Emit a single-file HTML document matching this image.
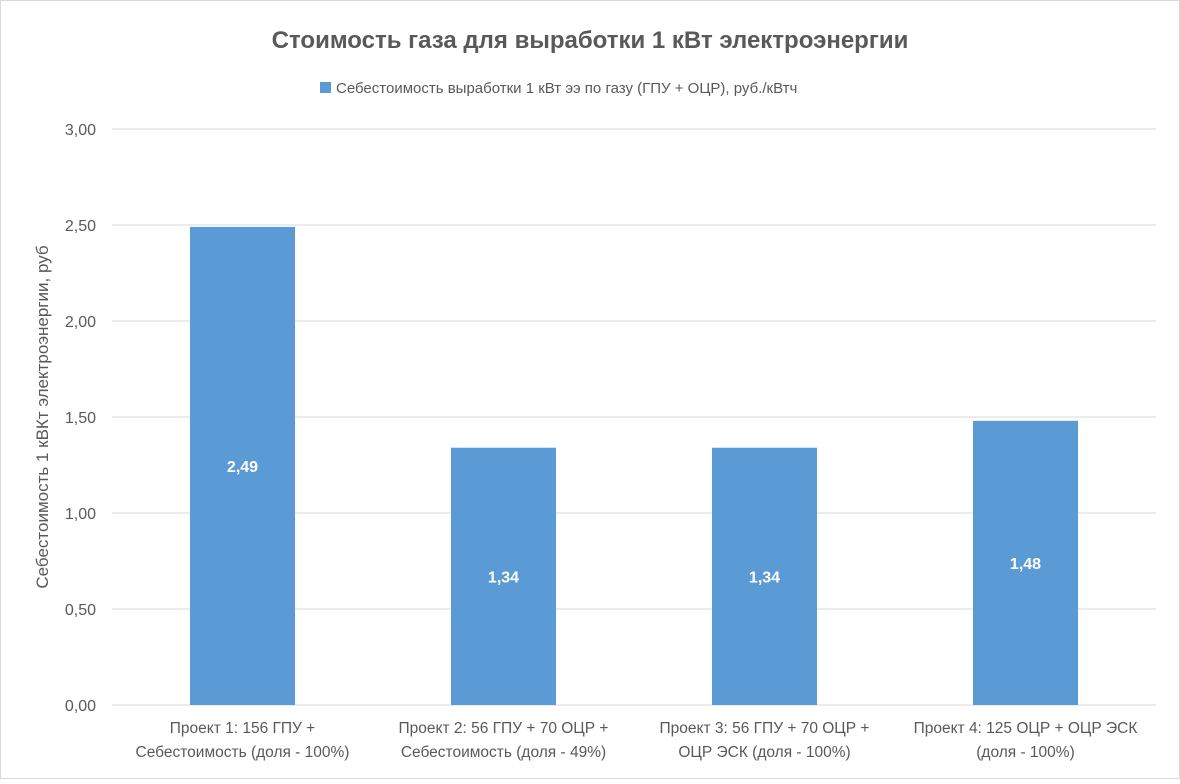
<!DOCTYPE html>
<html><head><meta charset="utf-8"><style>
body{margin:0;background:#fff;}
svg text{font-family:"Liberation Sans",sans-serif;}
</style></head><body>
<svg width="1180" height="779" xmlns="http://www.w3.org/2000/svg">
<rect x="0.5" y="0.5" width="1179" height="778" fill="#fff" stroke="#d9d9d9"/>
<text x="590" y="48" text-anchor="middle" font-size="24" font-weight="bold" fill="#595959">Стоимость газа для выработки 1 кВт электроэнергии</text>
<rect x="320" y="82" width="11" height="11" fill="#5b9bd5"/>
<text x="336" y="93" font-size="15" fill="#595959">Себестоимость выработки 1 кВт ээ по газу (ГПУ + ОЦР), руб./кВтч</text>
<text transform="translate(48,417) rotate(-90)" text-anchor="middle" font-size="17" fill="#595959">Себестоимость 1 кВКт электроэнергии, руб</text>
<g id="grid"></g><g id="bars"></g>
</svg>
<script>
const categories=[["Проект 1: 156 ГПУ +","Себестоимость (доля - 100%)"],["Проект 2: 56 ГПУ + 70 ОЦР +","Себестоимость (доля - 49%)"],["Проект 3: 56 ГПУ + 70 ОЦР +","ОЦР ЭСК (доля - 100%)"],["Проект 4: 125 ОЦР + ОЦР ЭСК","(доля - 100%)"]];
const values=[2.49,1.34,1.34,1.48];
const valueLabels=["2,49","1,34","1,34","1,48"];
const ticks=[0,0.5,1,1.5,2,2.5,3];
const tickLabels=["0,00","0,50","1,00","1,50","2,00","2,50","3,00"];
const NS="http://www.w3.org/2000/svg";
const x0=112,x1=1156,yb=705,yt=129,ymax=3;
const y=v=>yb-(v/ymax)*(yb-yt);
const band=(x1-x0)/categories.length;
const xc=i=>x0+band*(i+0.5);
const mk=(t,a,p)=>{const e=document.createElementNS(NS,t);for(const k in a)e.setAttribute(k,a[k]);p.appendChild(e);return e;};
const g=document.getElementById('grid'),b=document.getElementById('bars');
ticks.forEach((t,i)=>{
 const l=mk('line',{x1:x0,x2:x1,y1:y(t),y2:y(t),stroke:'#d9d9d9','stroke-width':1},g);
 
 
 const tx=mk('text',{x:96,y:y(t)+6,'text-anchor':'end','font-size':16,fill:'#595959'},g);
 tx.textContent=tickLabels[i];
 
 
});
values.forEach((v,i)=>{
 const w=105;
 const r=mk('rect',{x:xc(i)-w/2,y:y(v),width:w,height:yb-y(v),fill:'#5b9bd5'},b);
 
 
 const t=mk('text',{x:xc(i),y:(y(v)+yb)/2+6,'text-anchor':'middle','font-size':16,'font-weight':'bold',fill:'#fff'},b);
 t.textContent=valueLabels[i];
 
 
 categories[i].forEach((s,j)=>{
  const c=mk('text',{x:xc(i),y:733+j*24,'text-anchor':'middle','font-size':15.5,fill:'#595959'},b);
  c.textContent=s;
  
  
 });
});
</script>
</body></html>
